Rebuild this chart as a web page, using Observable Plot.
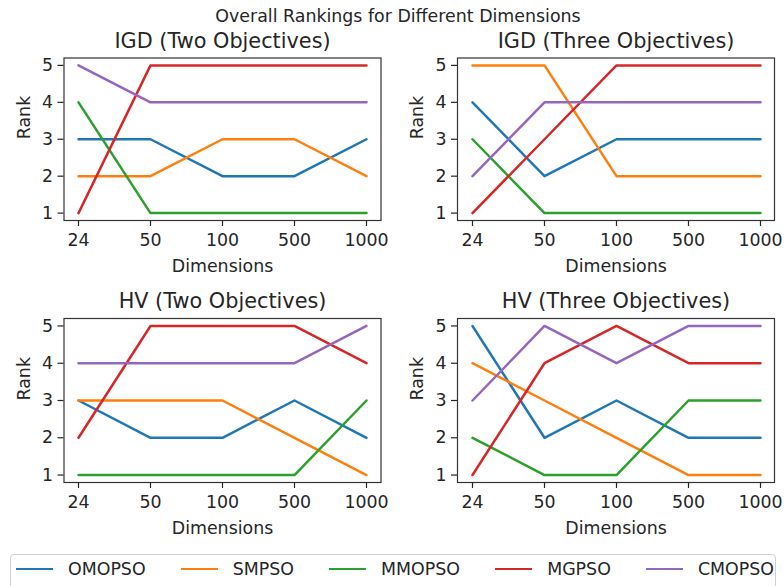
<!DOCTYPE html>
<html>
<head>
<meta charset="utf-8">
<script src="https://cdn.jsdelivr.net/npm/d3@7"></script>
<script src="https://cdn.jsdelivr.net/npm/@observablehq/plot@0.6"></script>
<style>
  html, body { margin: 0; padding: 0; background: #fff; }
  #fig { position: relative; width: 784px; height: 586px; overflow: hidden; font-family: "DejaVu Sans", sans-serif; color: #262626; }
  .panel { position: absolute; width: 392px; }
  #suptitle { position: absolute; left: 0; top: 0; }
  #legend { position: absolute; left: 10px; top: 554px; width: 766px; height: 40px; border: 1px solid #d0d0d0; border-radius: 4px; background: #fff; box-sizing: border-box; }
  #legend .row { position: absolute; left: 5px; right: 1px; top: 4px; height: 20px; display: flex; justify-content: space-between; align-items: center; font-size: 17.4px; }
  #legend .item { display: flex; align-items: center; }
  #legend .swatch { display: inline-block; width: 37px; height: 2.5px; margin-right: 15px; }
</style>
</head>
<body>
<div id="fig">
  <div class="panel" id="p0"></div>
  <div class="panel" id="p1"></div>
  <div class="panel" id="p2"></div>
  <div class="panel" id="p3"></div>
  <svg id="suptitle" width="784" height="30">
    <text x="398" y="21.7" text-anchor="middle" font-family="DejaVu Sans" font-size="17.4" fill="#262626">Overall Rankings for Different Dimensions</text>
  </svg>
  <div id="legend"><div class="row"></div></div>
</div>
<script>
// Problem dimensions (categorical x axis) and the compared algorithms
const dimensions = ["24", "50", "100", "500", "1000"];
const algorithms = ["OMOPSO", "SMPSO", "MMOPSO", "MGPSO", "CMOPSO"];
const rankTicks = [1, 2, 3, 4, 5];

// Ranks per algorithm (rows follow the algorithms order), one value per dimension
const igdTwoRanks = [
  [3, 3, 2, 2, 3],
  [2, 2, 3, 3, 2],
  [4, 1, 1, 1, 1],
  [1, 5, 5, 5, 5],
  [5, 4, 4, 4, 4]
];
const igdThreeRanks = [
  [4, 2, 3, 3, 3],
  [5, 5, 2, 2, 2],
  [3, 1, 1, 1, 1],
  [1, 3, 5, 5, 5],
  [2, 4, 4, 4, 4]
];
const hvTwoRanks = [
  [3, 2, 2, 3, 2],
  [3, 3, 3, 2, 1],
  [1, 1, 1, 1, 3],
  [2, 5, 5, 5, 4],
  [4, 4, 4, 4, 5]
];
const hvThreeRanks = [
  [5, 2, 3, 2, 2],
  [4, 3, 2, 1, 1],
  [2, 1, 1, 3, 3],
  [1, 4, 5, 4, 4],
  [3, 5, 4, 5, 5]
];
const panelTitles = ["IGD (Two Objectives)", "IGD (Three Objectives)", "HV (Two Objectives)", "HV (Three Objectives)"];

// matplotlib tab10 palette
const palette = ["#1f77b4", "#ff7f0e", "#2ca02c", "#d62728", "#9467bd"];

function rankPanel(title, ranks, layout) {
  const rows = algorithms.flatMap((algo, i) =>
    dimensions.map((dim, j) => ({dim, algo, rank: ranks[i][j]}))
  );
  return Plot.plot({
    width: 392,
    height: layout.height,
    marginTop: layout.marginTop,
    marginBottom: layout.marginBottom,
    marginLeft: layout.marginLeft,
    marginRight: layout.marginRight,
    style: {fontFamily: "DejaVu Sans", fontSize: "17.4px", color: "#262626", background: "transparent", overflow: "visible"},
    x: {type: "point", domain: dimensions, padding: 0.2},
    y: {domain: [0.8, 5.2]},
    color: {domain: algorithms, range: palette},
    marks: [
      Plot.line(rows, {x: "dim", y: "rank", z: "algo", stroke: "algo", strokeWidth: 2.5}),
      Plot.frame({stroke: "#333", strokeWidth: 1.2}),
      Plot.axisX({tickSize: 6, tickPadding: 7, label: null, strokeWidth: 1.2}),
      Plot.axisY(rankTicks, {tickSize: 6, tickPadding: 5, label: null, strokeWidth: 1.2, tickFormat: d3.format("d")}),
      Plot.text([title], {text: d => d, frameAnchor: "top", lineAnchor: "bottom", dy: -10.5, fontSize: 20.8}),
      Plot.text(["Dimensions"], {text: d => d, frameAnchor: "bottom", lineAnchor: "bottom", dy: 51.5}),
      Plot.text(["Rank"], {text: d => d, frameAnchor: "left", lineAnchor: "middle", rotate: -90, dx: -40})
    ]
  });
}

const topRow = {height: 290, marginTop: 57.5, marginBottom: 70};
const bottomRow = {height: 260, marginTop: 28, marginBottom: 68};
const leftCol = {marginLeft: 63.5, marginRight: 11.5};
const rightCol = {marginLeft: 65, marginRight: 10};

const panels = [
  {ranks: igdTwoRanks, layout: {...topRow, ...leftCol}, left: 0, top: 0},
  {ranks: igdThreeRanks, layout: {...topRow, ...rightCol}, left: 392, top: 0},
  {ranks: hvTwoRanks, layout: {...bottomRow, ...leftCol}, left: 0, top: 290},
  {ranks: hvThreeRanks, layout: {...bottomRow, ...rightCol}, left: 392, top: 290}
];

panels.forEach((p, i) => {
  const host = document.getElementById("p" + i);
  host.style.left = p.left + "px";
  host.style.top = p.top + "px";
  host.appendChild(rankPanel(panelTitles[i], p.ranks, p.layout));
});

// Shared legend below the grid
const legendRow = document.querySelector("#legend .row");
algorithms.forEach((algo, i) => {
  const item = document.createElement("div");
  item.className = "item";
  const sw = document.createElement("span");
  sw.className = "swatch";
  sw.style.background = palette[i];
  const label = document.createElement("span");
  label.textContent = algo;
  item.appendChild(sw);
  item.appendChild(label);
  legendRow.appendChild(item);
});
</script>
</body>
</html>
